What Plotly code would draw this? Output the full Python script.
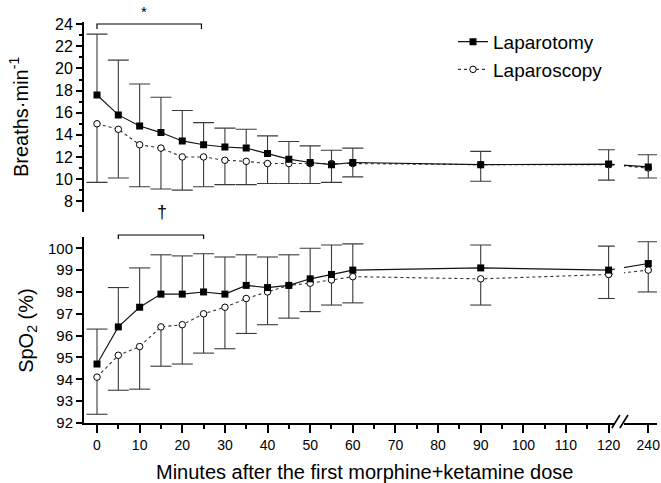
import plotly.graph_objects as go

# ---------------- data ----------------
minutes = [0, 5, 10, 15, 20, 25, 30, 35, 40, 45, 50, 55, 60, 90, 120, 240]
tick_minutes = [0, 10, 20, 30, 40, 50, 60, 70, 80, 90, 100, 110, 120, 240]
tick_labels = [str(m) for m in tick_minutes]

rr_laparotomy = [17.6, 15.8, 14.8, 14.2, 13.45, 13.1, 12.9, 12.8, 12.3, 11.8, 11.5, 11.3, 11.5, 11.3, 11.35, 11.1]
rr_laparotomy_upper = [23.1, 20.75, 18.6, 17.4, 16.2, 15.1, 14.6, 14.5, 13.9, 13.4, 13.0, 12.6, 12.8, 12.5, 12.65, 12.2]
rr_laparoscopy = [15.0, 14.5, 13.1, 12.8, 12.0, 12.0, 11.7, 11.6, 11.4, 11.4, 11.4, 11.4, 11.4, 11.3, 11.3, 11.0]
rr_laparoscopy_lower = [9.7, 10.1, 9.3, 9.1, 9.0, 9.3, 9.5, 9.5, 9.6, 9.6, 9.6, 9.7, 10.2, 9.8, 9.9, 10.1]

spo2_laparotomy = [94.7, 96.4, 97.3, 97.9, 97.9, 98.0, 97.9, 98.3, 98.2, 98.3, 98.6, 98.8, 99.0, 99.1, 99.0, 99.3]
spo2_laparotomy_upper = [96.3, 98.2, 99.1, 99.7, 99.65, 99.75, 99.6, 99.7, 99.6, 99.7, 100.0, 100.15, 100.2, 100.15, 100.1, 100.3]
spo2_laparoscopy = [94.1, 95.1, 95.5, 96.4, 96.5, 97.0, 97.3, 97.7, 98.0, 98.3, 98.4, 98.55, 98.7, 98.6, 98.8, 99.0]
spo2_laparoscopy_lower = [92.4, 93.5, 93.55, 94.6, 94.7, 95.2, 95.4, 96.1, 96.5, 96.8, 97.1, 97.4, 97.5, 97.4, 97.7, 98.0]

# broken axis: the 240-min point is drawn just after the break following 120 min
BREAK_AFTER = 120
POS_AFTER_BREAK = 129.3


def axis_pos(m):
    return m if m <= BREAK_AFTER else POS_AFTER_BREAK


xpos = [axis_pos(m) for m in minutes]
tick_pos = [axis_pos(m) for m in tick_minutes]

FONT = "Liberation Sans, Arial, sans-serif"
BAR_COLOR = "#3a3a3a"
XR = [-3.05, 131.35]

fig = go.Figure()


def add_series(mean, bound, upper, xa, ya, name, showlegend):
    diffs = [(b - m) if upper else (m - b) for m, b in zip(mean, bound)]
    zeros = [0] * len(mean)
    if upper:
        line = dict(color="#111", width=1.1)
        marker = dict(symbol="square", size=7, color="#000", line=dict(width=0))
        err = dict(type="data", symmetric=False, array=diffs, arrayminus=zeros,
                   color=BAR_COLOR, thickness=1.1, width=0)
    else:
        line = dict(color="#333", width=1.1, dash="dot")
        marker = dict(symbol="circle", size=6.5, color="#fff", line=dict(width=1, color="#000"))
        err = dict(type="data", symmetric=False, array=zeros, arrayminus=diffs,
                   color=BAR_COLOR, thickness=1.1, width=0)
    # caps
    fig.add_trace(go.Scatter(x=xpos, y=bound, mode="markers", xaxis=xa, yaxis=ya,
                             marker=dict(symbol="line-ew", size=15,
                                         line=dict(width=1.1, color=BAR_COLOR)),
                             showlegend=False, hoverinfo="skip"))
    fig.add_trace(go.Scatter(x=xpos, y=mean, mode="lines+markers", name=name,
                             xaxis=xa, yaxis=ya, line=line, marker=marker,
                             error_y=err, showlegend=showlegend))


# top panel (respiratory rate)
add_series(rr_laparoscopy, rr_laparoscopy_lower, False, "x", "y", "Laparoscopy", False)
add_series(rr_laparotomy, rr_laparotomy_upper, True, "x", "y", "Laparotomy", True)
# bottom panel (SpO2)
add_series(spo2_laparoscopy, spo2_laparoscopy_lower, False, "x2", "y2", "Laparoscopy", True)
add_series(spo2_laparotomy, spo2_laparotomy_upper, True, "x2", "y2", "Laparotomy", False)

axis_common = dict(showgrid=False, zeroline=False, linecolor="#000", linewidth=2,
                   ticks="outside", tickcolor="#000", tickwidth=1.5)

fig.update_layout(
    template="none",
    width=661, height=483,
    margin=dict(l=84, r=4, t=22, b=60),
    paper_bgcolor="white", plot_bgcolor="white",
    font=dict(family=FONT, color="#000"),
    showlegend=True,
    legend=dict(x=0.644, y=0.998, xanchor="left", yanchor="top",
                font=dict(size=19, family=FONT, color="#000"), traceorder="normal",
                bgcolor="rgba(0,0,0,0)", tracegroupgap=0),
    xaxis=dict(domain=[0, 1], range=XR, anchor="y", visible=False),
    yaxis=dict(domain=[0.527, 1], range=[7.05, 24.2], anchor="x",
               showline=True, tickvals=list(range(8, 25, 2)), ticklen=6,
               tickfont=dict(size=16, color="#000"),
               minor=dict(dtick=1, ticks="outside", ticklen=3, tickcolor="#000"),
               **axis_common),
    xaxis2=dict(domain=[0, 1], range=XR, anchor="y2", showline=True,
                tickmode="array", tickvals=tick_pos, ticktext=tick_labels,
                ticklen=8, tickfont=dict(size=14, color="#000"),
                minor=dict(tickmode="array", tickvals=list(range(5, 120, 10)),
                           ticks="outside", ticklen=4, tickcolor="#000"),
                **axis_common),
    yaxis2=dict(domain=[0, 0.463], range=[92, 100.5], anchor="x2",
                showline=True, tickvals=list(range(92, 101)), ticklen=6,
                tickfont=dict(size=15, color="#000"), **axis_common),
)

shapes = []
# axis break: white gap and two slashes
shapes.append(dict(type="rect", xref="x2", yref="paper", x0=121.45, x1=123.6,
                   y0=-0.02, y1=1.0, fillcolor="white", line=dict(width=0), layer="above"))
for xs in (120.75, 122.65):
    shapes.append(dict(type="line", xref="x2", yref="paper", x0=xs, x1=xs + 1.9,
                       y0=-0.0125, y1=0.02, line=dict(color="#000", width=1.6), layer="above"))
# significance brackets
shapes.append(dict(type="path", xref="x", yref="paper",
                   path="M 0,0.9825 L 0,0.995 L 24.5,0.995 L 24.5,0.9825",
                   line=dict(color="#000", width=1.2)))
shapes.append(dict(type="path", xref="x2", yref="paper",
                   path="M 5,0.459 L 5,0.4688 L 25,0.4688 L 25,0.459",
                   line=dict(color="#000", width=1.2)))
fig.update_layout(shapes=shapes)

BLACK = "black"
annotations = [
    dict(text="*", x=11, xref="x", y=1.025, yref="paper", showarrow=False,
         font=dict(size=15, color=BLACK), xanchor="center", yanchor="middle"),
    dict(text="†", x=15.3, xref="x2", y=0.527, yref="paper", showarrow=False,
         font=dict(size=18, color=BLACK), xanchor="center", yanchor="middle"),
    dict(text="Breaths·min<sup>-1</sup>", x=-0.113, xref="paper", y=0.7635, yref="paper",
         textangle=-90, showarrow=False, font=dict(size=20, color=BLACK),
         xanchor="center", yanchor="middle"),
    dict(text="SpO<sub>2</sub> (%)", x=-0.1, xref="paper", y=0.2315, yref="paper",
         textangle=-90, showarrow=False, font=dict(size=20, color=BLACK),
         xanchor="center", yanchor="middle"),
    dict(text="Minutes after the first morphine+ketamine dose", x=0.49, xref="paper",
         y=-0.121, yref="paper", showarrow=False, font=dict(size=20, color=BLACK),
         xanchor="center", yanchor="middle"),
]
fig.update_layout(annotations=annotations)

fig.write_html("out.html", config={"displayModeBar": False},
               post_script="document.body.style.margin='0px';")
